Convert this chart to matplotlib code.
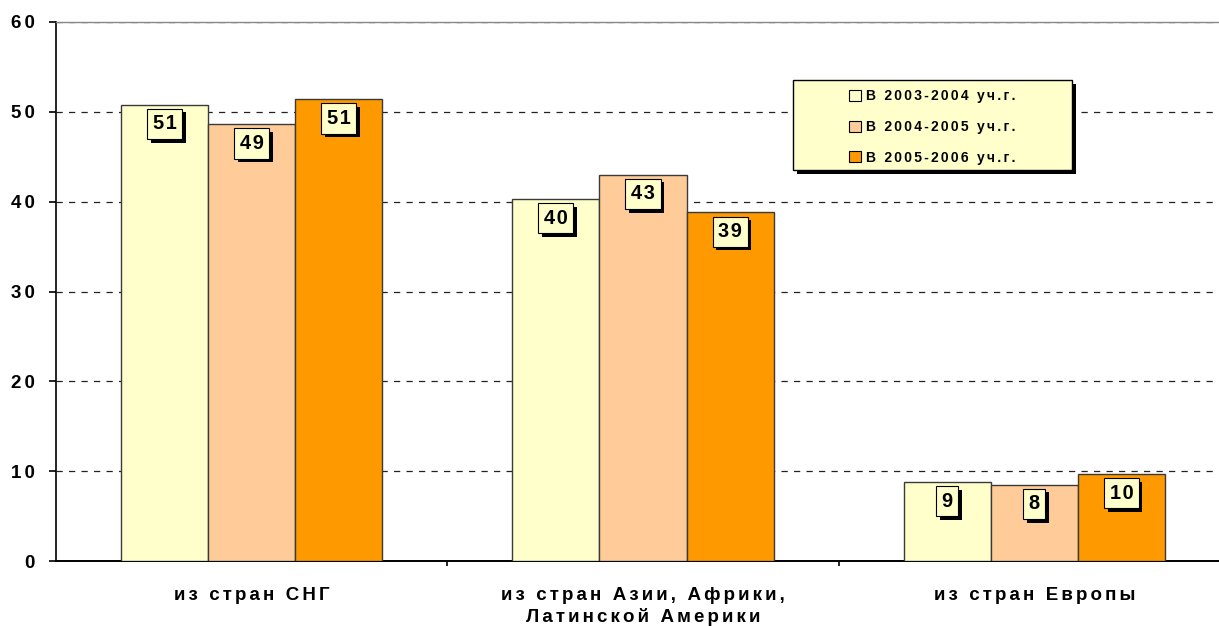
import matplotlib
matplotlib.use("Agg")
import matplotlib.pyplot as plt
import matplotlib.patheffects as pe
import numpy as np
from matplotlib.patches import Patch, Rectangle

categories = ["из стран СНГ", "из стран Азии, Африки,\nЛатинской Америки", "из стран Европы"]
series_names = ["В 2003-2004 уч.г.", "В 2004-2005 уч.г.", "В 2005-2006 уч.г."]
values_0304 = [50.8, 40.3, 8.8]
values_0405 = [48.6, 43.0, 8.5]
values_0506 = [51.4, 38.8, 9.7]
labels_0304 = ["51", "40", "9"]
labels_0405 = ["49", "43", "8"]
labels_0506 = ["51", "39", "10"]
colors = ["#FFFFCC", "#FFCC99", "#FF9900"]
yticks = [0, 10, 20, 30, 40, 50, 60]

plt.rcParams['font.family'] = ['Liberation Sans', 'DejaVu Sans']


def spaced(s, sp):
    return "\n".join(sp.join(list(line)) for line in s.split("\n"))


W, H = 1219, 626
fig = plt.figure(figsize=(W / 100, H / 100), dpi=100)
ax = fig.add_axes([56 / W, 65 / H, (1230 - 56) / W, 539 / H])

series = [values_0304, values_0405, values_0506]
labels = [labels_0304, labels_0405, labels_0506]
x = np.arange(len(categories))
w = 0.2225
shadow = [pe.SimplePatchShadow(offset=(2.6, -2.6), shadow_rgbFace="black", alpha=1), pe.Normal()]
for i, (vals, labs) in enumerate(zip(series, labels)):
    pos = x + (i - 1) * w
    ax.bar(pos, vals, width=w, color=colors[i], edgecolor="#3a3a3a", linewidth=1.0, zorder=3)
    for px, v, lab in zip(pos, vals, labs):
        t = ax.annotate(spaced(lab, "\u200a"), (px, v), xytext=(0, -13.8), textcoords="offset points",
                        ha="center", va="center", fontsize=14.4, fontweight="bold", color="black",
                        bbox=dict(boxstyle="square,pad=0.28", facecolor="#FFFFCC",
                                  edgecolor="black", linewidth=0.8),
                        zorder=5)
        t.get_bbox_patch().set_path_effects(shadow)

ax.set_xlim(-0.5, len(categories) - 0.5)
ax.set_ylim(0, 60)
ax.set_yticks(yticks)
ax.set_yticklabels([spaced(str(t), "\u2006") for t in yticks], fontsize=13.5, fontweight="bold")
ax.yaxis.grid(True, linestyle=(0, (5, 5)), color="#222222", linewidth=0.9, zorder=0)
ax.set_axisbelow(True)

ax.set_xticks(x)
ax.set_xticklabels([spaced(c, "\u2006") for c in categories], fontsize=13.5, fontweight="bold",
                   linespacing=1.28)
ax.tick_params(axis="x", length=0, pad=19)
ax.set_xticks([0.5, 1.5], minor=True)
ax.tick_params(axis="x", which="minor", length=3.6, width=1.2, color="black", direction="out")
ax.tick_params(axis="y", length=5, width=1.2, direction="out", pad=10.5)

ax.spines["right"].set_visible(False)
ax.spines["top"].set_color("#888888")
ax.spines["top"].set_linewidth(1.0)
ax.spines["left"].set_linewidth(1.2)
ax.spines["bottom"].set_linewidth(1.4)

# legend frame
frame = Rectangle((793 / W, 1 - 170 / H), 279 / W, 90 / H, transform=fig.transFigure,
                  facecolor="#FFFFCC", edgecolor="black", linewidth=1.0, zorder=9)
frame.set_path_effects([pe.SimplePatchShadow(offset=(2.6, -2.6), shadow_rgbFace="black", alpha=1),
                        pe.Normal()])
fig.patches.append(frame)

handles = [Patch(facecolor=c, edgecolor="black", linewidth=0.8) for c in colors]
leg = fig.legend(handles, [spaced(s, "\u2006") for s in series_names], loc="center",
                 bbox_to_anchor=(932.5 / W, 1 - 127 / H), bbox_transform=fig.transFigure,
                 frameon=False, prop={"weight": "bold", "size": 10},
                 handlelength=0.85, handleheight=0.85, handletextpad=0.35, labelspacing=1.2,
                 borderpad=0, borderaxespad=0)
leg.set_zorder(10)

fig.savefig("out.png", dpi=100)
